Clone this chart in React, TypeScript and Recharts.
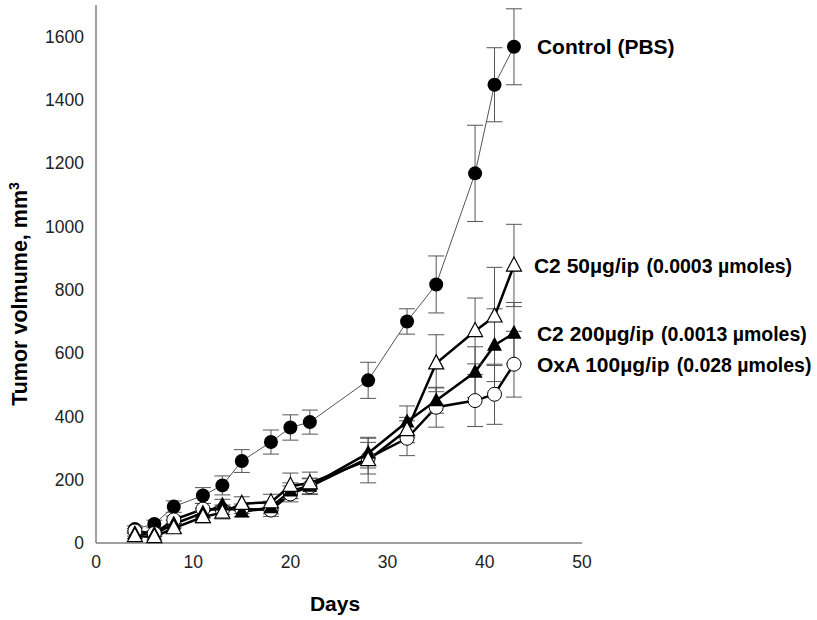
import { LineChart, Line, XAxis, YAxis, ErrorBar } from "recharts";

// days of measurement
const days = [4, 6, 8, 11, 13, 15, 18, 20, 22, 28, 32, 35, 39, 41, 43];

// mean tumor volume (mm3) and error per group
const control = [44, 60, 115, 150, 182, 259, 319, 365, 382, 514, 700, 817, 1168, 1448, 1568];
const controlErr = [10, 12, 18, 25, 30, 36, 38, 40, 38, 57, 40, 90, 152, 117, 120];

const oxa = [38, 30, 73, 107, 105, 108, 104, 155, 178, 268, 331, 429, 450, 470, 565];
const oxaErr = [8, 8, 12, 18, 15, 15, 20, 25, 25, 50, 55, 63, 82, 95, 104];

const c2High = [30, 28, 60, 95, 120, 98, 112, 165, 180, 284, 383, 450, 540, 625, 663];
const c2HighErr = [8, 8, 12, 15, 18, 15, 20, 25, 25, 47, 50, 40, 80, 115, 97];

const c2Low = [22, 19, 47, 82, 96, 124, 129, 181, 189, 262, 357, 568, 670, 716, 877];
const c2LowErr = [8, 10, 15, 18, 20, 22, 25, 40, 35, 72, 40, 90, 104, 155, 130];

const xTicks = [0, 10, 20, 30, 40, 50];
const yTicks = [0, 200, 400, 600, 800, 1000, 1200, 1400, 1600];

const font = "'Liberation Sans', Arial, sans-serif";

const toRows = (vals: number[], errs: number[]) =>
  days.map((d, i) => ({ day: d, v: vals[i], err: errs[i] }));

type Marker = "dot" | "circle" | "tri" | "openTri";

const series = [
  { name: "Control (PBS)", sub: "", data: toRows(control, controlErr), marker: "dot" as Marker, thin: true, dx: 23 },
  { name: "OxA 100µg/ip", sub: "(0.028 µmoles)", data: toRows(oxa, oxaErr), marker: "circle" as Marker, thin: false, dx: 23 },
  { name: "C2 200µg/ip", sub: "(0.0013 µmoles)", data: toRows(c2High, c2HighErr), marker: "tri" as Marker, thin: false, dx: 23 },
  { name: "C2 50µg/ip", sub: "(0.0003 µmoles)", data: toRows(c2Low, c2LowErr), marker: "openTri" as Marker, thin: false, dx: 20 },
];

function drawMarker(marker: Marker, cx: number, cy: number) {
  if (marker === "dot") return <circle cx={cx} cy={cy} r={7} fill="#000" />;
  if (marker === "circle")
    return <circle cx={cx} cy={cy} r={7} fill="#fff" stroke="#000" strokeWidth={1} />;
  const h = 14;
  const w = 15;
  const pts = `${cx},${cy - h * 0.6} ${cx - w / 2},${cy + h * 0.4} ${cx + w / 2},${cy + h * 0.4}`;
  if (marker === "tri") return <polygon points={pts} fill="#000" />;
  return <polygon points={pts} fill="#fff" stroke="#000" strokeWidth={1.2} />;
}

const makeDot = (s: (typeof series)[number]) => (props: any) => {
  const { cx, cy, index } = props;
  const last = index === s.data.length - 1;
  return (
    <g key={`dot-${s.marker}-${index}`}>
      {drawMarker(s.marker, cx, cy)}
      {last && (
        <text
          x={cx + s.dx}
          y={cy}
          dy="0.35em"
          fontFamily={font}
          fontWeight="bold"
          fontSize={21}
          fill="#000"
        >
          {s.name}
          {s.sub && (
            <tspan fontSize={19.5} dx={7}>
              {s.sub}
            </tspan>
          )}
        </text>
      )}
    </g>
  );
};

export default function App() {
  return (
    <div style={{ position: "absolute", left: 0, top: 0, background: "#fff" }}>
      <LineChart
        width={817}
        height={620}
        margin={{ top: 5, right: 235, left: 36, bottom: 37 }}
      >
        <XAxis
          dataKey="day"
          type="number"
          domain={[0, 50]}
          ticks={xTicks}
          tickLine={false}
          tickSize={0}
          tickMargin={13}
          height={40}
          stroke="#808080"
          strokeWidth={1.5}
          tick={{ fill: "#222", fontSize: 17.5, fontFamily: font }}
          label={{
            content: ({ viewBox }: any) => (
              <text
                x={viewBox.x + viewBox.width / 2 - 4}
                y={viewBox.y + 68}
                textAnchor="middle"
                fontFamily={font}
                fontWeight="bold"
                fontSize={21}
                fill="#000"
              >
                Days
              </text>
            ),
          }}
        />
        <YAxis
          type="number"
          domain={[0, 1700]}
          ticks={yTicks}
          tickLine={false}
          tickSize={0}
          tickMargin={12}
          width={60}
          stroke="#808080"
          strokeWidth={1.5}
          tick={{ fill: "#222", fontSize: 17.5, fontFamily: font }}
          label={{
            content: ({ viewBox }: any) => {
              const cy = viewBox.y + viewBox.height / 2 + 20;
              return (
                <text
                  x={19}
                  y={cy}
                  transform={`rotate(-90 19 ${cy})`}
                  textAnchor="middle"
                  dy="0.35em"
                  fontFamily={font}
                  fontWeight="bold"
                  fontSize={21.5}
                  fill="#000"
                >
                  Tumor volmume, mm
                  <tspan fontSize={14} dy={-8}>
                    3
                  </tspan>
                </text>
              );
            },
          }}
        />
        {series.map((s) => (
          <Line
            key={s.name}
            data={s.data}
            dataKey="v"
            type="linear"
            stroke={s.thin ? "#555" : "#000"}
            strokeWidth={s.thin ? 1 : 2.5}
            dot={makeDot(s)}
            activeDot={false}
            isAnimationActive={false}
          >
            <ErrorBar
              dataKey="err"
              direction="y"
              width={8}
              stroke="#555"
              strokeWidth={1}
              isAnimationActive={false}
            />
          </Line>
        ))}
      </LineChart>
    </div>
  );
}
